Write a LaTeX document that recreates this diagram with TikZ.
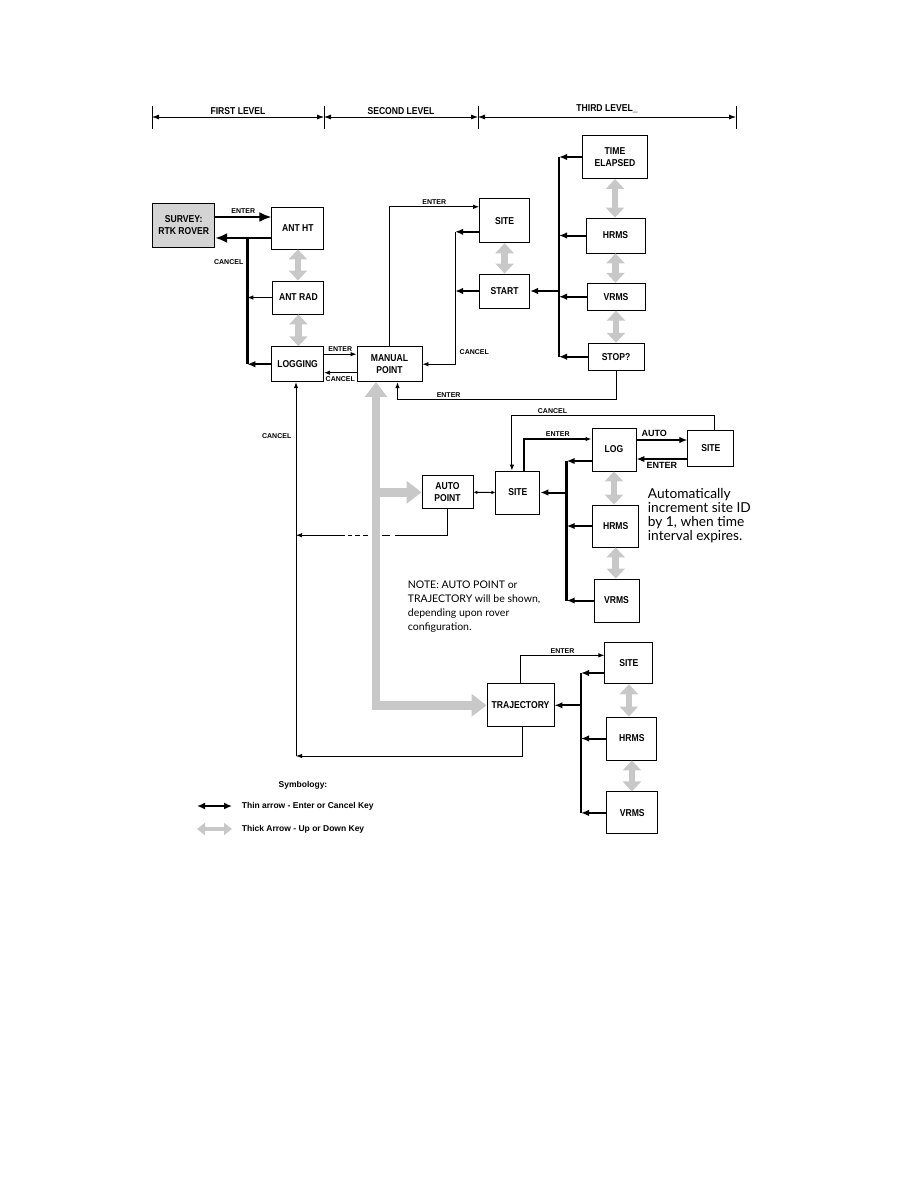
\documentclass[tikz,border=0pt]{standalone}
\usepackage{fontspec}
\setmainfont{Liberation Sans}
\newfontfamily\condfont[FakeStretch=0.86]{Liberation Sans}
\newfontfamily\notefont{Lato}
\usetikzlibrary{arrows.meta}
\definecolor{keygray}{RGB}{200,200,200}
\definecolor{rovergray}{RGB}{212,212,212}

\begin{document}
\begin{tikzpicture}[x=1pt, y=-1pt,
	box/.style={draw, line width=0.9pt, inner sep=0pt, align=center, font=\condfont\bfseries\fontsize{10}{12}\selectfont},
	lbl/.style={font=\bfseries\fontsize{7}{8}\selectfont, inner sep=1.5pt},
	head/.style={font=\condfont\bfseries\fontsize{10}{11}\selectfont, inner sep=0pt},
	keytext/.style={font=\bfseries\fontsize{8.5}{10}\selectfont, inner sep=0pt},
	note/.style={font=\notefont\fontsize{10.5}{14}\selectfont, align=left, inner sep=0pt},
	dimline/.style={{Latex[length=7pt,width=5pt]}-{Latex[length=7pt,width=5pt]}, line width=0.8pt},
	link/.style={-{Latex[length=6pt,width=4.5pt]}, line width=0.9pt},
	stub/.style={-{Latex[length=8pt,width=6.5pt]}, line width=2pt},
	heavy/.style={-{Latex[length=12pt,width=10pt]}, line width=2.4pt},
	bus/.style={line width=2.6pt},
	updown/.style={{Triangle[length=10pt,width=18pt]}-{Triangle[length=10pt,width=18pt]}, line width=6.5pt, keygray},
	graybar/.style={line width=8.5pt, keygray, line join=miter}]
	\useasboundingbox (0,0) rectangle (918,1188);

	\foreach \x [count=\i] in {152,324,478,736} {
		\draw[line width=0.6pt] (\x,106) -- (\x,129);
		\coordinate (lv\i) at (\x,117);
	}
	\draw[dimline] (lv1) -- (lv2) node[midway, above=2.5pt, head] {FIRST LEVEL};
	\draw[dimline] (lv2) -- (lv3) node[midway, above=2.5pt, head] {SECOND LEVEL};
	\draw[dimline] (lv3) -- (lv4) node[midway, above=3.5pt, head] {THIRD LEVEL\_};

	\node[box, fill=rovergray, minimum width=62, minimum height=44] (rover) at (183.7,225) {SURVEY:\\RTK ROVER};
	\node[box, minimum width=52, minimum height=42] (antht) at (297.9,228) {ANT HT};
	\node[box, minimum width=51, minimum height=33] (antrad) at (298.4,297.5) {ANT RAD};
	\node[box, minimum width=52, minimum height=35] (logging) at (297.6,364.2) {LOGGING};
	\node[box, minimum width=65, minimum height=35] (manual) at (389.5,364.2) {MANUAL\\POINT};
	\node[box, minimum width=50, minimum height=44] (site1) at (504.6,220.8) {SITE};
	\node[box, minimum width=50, minimum height=34] (start) at (504.6,291) {START};
	\node[box, minimum width=65, minimum height=43] (time) at (615,157) {TIME\\ELAPSED};
	\node[box, minimum width=59, minimum height=35] (hrms1) at (615.5,235.5) {HRMS};
	\node[box, minimum width=58, minimum height=27] (vrms1) at (616,296.7) {VRMS};
	\node[box, minimum width=56, minimum height=27] (stop) at (616,356.7) {STOP?};
	\node[box, minimum width=44, minimum height=43] (log) at (614,449.5) {LOG};
	\node[box, minimum width=46, minimum height=36] (site2) at (710.9,448) {SITE};
	\node[box, minimum width=51, minimum height=33] (auto) at (447.5,492.3) {AUTO\\POINT};
	\node[box, minimum width=44, minimum height=43] (site3) at (517.9,492.5) {SITE};
	\node[box, minimum width=46, minimum height=42] (hrms2) at (615.7,526) {HRMS};
	\node[box, minimum width=45, minimum height=43] (vrms2) at (616.5,600.5) {VRMS};
	\node[box, minimum width=67, minimum height=43] (traj) at (520.5,705.3) {TRAJECTORY};
	\node[box, minimum width=48, minimum height=41] (site4) at (628.9,663.3) {SITE};
	\node[box, minimum width=50, minimum height=43] (hrms3) at (631.9,738.5) {HRMS};
	\node[box, minimum width=51, minimum height=42] (vrms3) at (632.3,812.9) {VRMS};

	\foreach \a/\b in {antht/antrad, antrad/logging, site1/start, time/hrms1, hrms1/vrms1, vrms1/stop, log/hrms2, hrms2/vrms2, site4/hrms3, hrms3/vrms3}
		\draw[updown] (\a.south) -- (\a.south |- \b.north);

	\draw[heavy] ([yshift=8]rover.east) -- ([yshift=8]rover.east -| antht.west) node[midway, above=1pt, lbl] {ENTER};
	\draw[heavy] ([yshift=-10]antht.west) -- ([yshift=-10]antht.west -| rover.east);
	\coordinate (cbus) at (247.3,238);
	\draw[bus] (cbus) -- (cbus |- logging.west);
	\draw[link] (antrad.west) -- (antrad.west -| cbus);
	\draw[stub] (logging.west) -- (logging.west -| cbus);
	\node[lbl, anchor=east] (cancel1) at (245,262) {CANCEL};
	\draw[link] ([yshift=10]logging.east) -- ([yshift=10]logging.east -| manual.west) node[midway, above=1pt, lbl] {ENTER};
	\draw[link] ([yshift=-8.5]manual.west) -- ([yshift=-8.5]manual.west -| logging.east) node[midway, below=1.5pt, lbl] {CANCEL};

	\draw[link] (manual.north) |- ([yshift=14]site1.west) node[pos=0.75, above, lbl] {ENTER};
	\draw[stub] ([yshift=-11]site1.west) -- ++(-24,0) coordinate (cs1);
	\draw[stub] (start.west) -- ++(-24,0);
	\draw[link] (cs1) |- (manual.east);
	\node[lbl, anchor=west] (cancel2) at (458,352) {CANCEL};

	\coordinate (tbus) at (559,157);
	\draw[bus] (tbus) -- (tbus |- stop.west);
	\foreach \b in {time,hrms1,vrms1,stop}
		\draw[stub] (\b.west) -- (\b.west -| tbus);
	\draw[stub] (tbus |- start.east) -- (start.east);
	\draw[link] (stop.south) -- ++(0,29) -| ([xshift=8]manual.south) node[pos=0.383, above, lbl] {ENTER};

	\coordinate (cbot) at (296,756);
	\draw[link, line width=0.8pt] (cbot) -- (cbot |- logging.south);
	\node[lbl, anchor=east] (cancel3) at (293,436) {CANCEL};
	\draw[link, dash pattern=on 79pt off 5pt on 8pt off 14pt on 5pt off 3pt on 5pt off 3pt on 4pt off 3pt on 200pt] (auto.south) -- ++(0,26) coordinate (a1) -- (a1 -| cbot);
	\draw[link] ([xshift=1.5]traj.south) |- (cbot);

	\draw[{Latex[length=4pt,width=3.5pt]}-{Latex[length=4pt,width=3.5pt]}, line width=0.9pt] (auto.east) -- (site3.west);
	\draw[link, line width=1.4pt] ([xshift=6]site3.north) |- ([yshift=10.5]log.west) node[pos=0.75, above, lbl] {ENTER};
	\draw[link] ([xshift=4]site2.north) -- ++(0,-14) -| ([xshift=-6]site3.north) node[pos=0.4, above, lbl] {CANCEL};
	\draw[stub] ([yshift=9.5]log.east) -- ([yshift=9.5]log.east -| site2.west) node[pos=0.35, above=1pt, lbl, font=\bfseries\fontsize{9}{10}\selectfont] {AUTO};
	\draw[stub] ([yshift=-11]site2.west) -- ([yshift=-11]site2.west -| log.east) node[midway, below=1pt, lbl, font=\bfseries\fontsize{9}{10}\selectfont] {ENTER};
	\coordinate (mbus) at (566.7,461);
	\draw[bus] (mbus) -- (mbus |- vrms2.west);
	\draw[stub] ([yshift=-11.5]log.west) -- (mbus);
	\foreach \b in {hrms2,vrms2}
		\draw[stub] (\b.west) -- (\b.west -| mbus);
	\draw[stub] (mbus |- site3.east) -- (site3.east);

	\draw[link] (traj.north) |- ([yshift=8]site4.west) node[pos=0.75, above, lbl] {ENTER};
	\coordinate (lbus) at (581,673);
	\draw[bus] (lbus) -- (lbus |- vrms3.west);
	\draw[stub] ([yshift=-9.7]site4.west) -- (lbus);
	\foreach \b in {hrms3,vrms3}
		\draw[stub] (\b.west) -- (\b.west -| lbus);
	\draw[stub] (lbus |- traj.east) -- (traj.east);

	\coordinate (gturn) at (376,705.3);
	\draw[graybar, {Triangle[length=15pt,width=22pt]}-{Triangle[length=15pt,width=22pt]}] (traj.west) -- (gturn) -- (gturn |- manual.south);
	\draw[graybar, -{Triangle[length=15pt,width=22pt]}] (gturn |- auto.west) -- (auto.west);

	\node[note, font=\notefont\fontsize{13.7}{14}\selectfont, anchor=north west] (autonote) at (647.7,488) {Automatically\\increment site ID\\by 1, when time\\interval expires.};
	\node[note, anchor=north west] (confnote) at (407.7,581) {NOTE: AUTO POINT or\\TRAJECTORY will be shown,\\depending upon rover\\configuration.};

	\node[keytext] (symb) at (303,785) {Symbology:};
	\coordinate (k1) at (197,806);
	\coordinate (k2) at (232,806);
	\draw[{Latex[length=8pt,width=7pt]}-{Latex[length=8pt,width=7pt]}, line width=2pt] (k1) -- (k2);
	\node[keytext, anchor=west] (thinkey) at (241.7,806) {Thin arrow - Enter or Cancel Key};
	\coordinate (k3) at (197,829);
	\coordinate (k4) at (232,829);
	\draw[{Triangle[length=8pt,width=12pt]}-{Triangle[length=8pt,width=12pt]}, line width=4.5pt, keygray] (k3) -- (k4);
	\node[keytext, anchor=west] (thickkey) at (241.7,829) {Thick Arrow - Up or Down Key};
\end{tikzpicture}
\end{document}
